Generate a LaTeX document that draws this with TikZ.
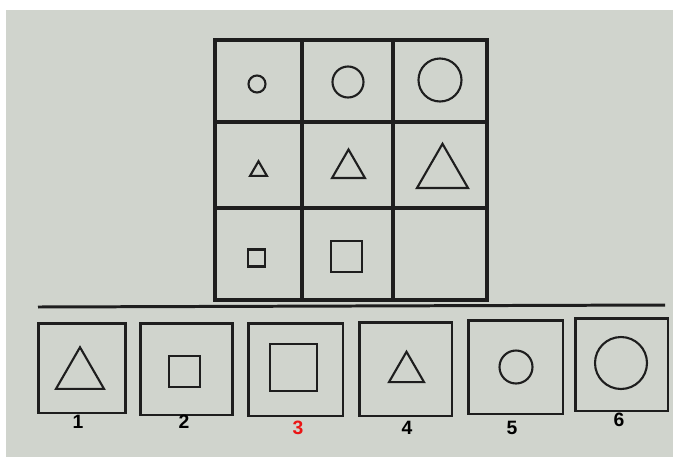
\documentclass[tikz,border=0pt]{standalone}
\usepackage{fontspec}
\setsansfont{Liberation Sans}
\usetikzlibrary{shapes.geometric}
\definecolor{Paper}{RGB}{208,212,205}
\definecolor{Ink}{RGB}{30,30,30}
\definecolor{Answer}{RGB}{235,20,20}
\tikzset{
  gridline/.style={Ink,line width=2.2pt},
  boxline/.style={Ink,line width=1.7pt},
  fig/.style={draw=Ink,line width=1.2pt,inner sep=0pt},
  fcirc/.style={fig,circle},
  ftri/.style={fig,regular polygon,regular polygon sides=3},
  fsq/.style={fig,rectangle},
  abox/.style={draw=Ink,line width=1.7pt,rectangle,inner sep=0pt},
  num/.style={font=\sffamily\bfseries\fontsize{11}{13}\selectfont,text=black},
}

\begin{document}
\begin{tikzpicture}[x=0.02cm,y=-0.02cm]
  \useasboundingbox[fill=white] (0,0) rectangle (673,457);
  \fill[Paper] (6,10) rectangle (673,457);

  % the 3x3 grid
  \draw[gridline] (215,40) rectangle (487,300);
  \draw[gridline] (302,40) -- (302,300);
  \draw[gridline] (393,40) -- (393,300);
  \draw[gridline] (215,122) -- (487,122);
  \draw[gridline] (215,208) -- (487,208);

  % row 1: circles
  \node[fcirc,minimum size=0.34cm] (c1) at (257,84) {};
  \node[fcirc,minimum size=0.62cm] (c2) at (348,82) {};
  \node[fcirc,minimum size=0.86cm] (c3) at (440,80) {};
  % row 2: triangles
  \node[ftri,minimum size=0.39cm] (t1) at (258.5,171) {};
  \node[ftri,minimum size=0.76cm] (t2) at (348.5,168.5) {};
  \node[ftri,minimum size=1.18cm] (t3) at (442.5,173.3) {};
  % row 3: squares, last cell empty
  \node[fsq,minimum size=0.34cm] (s1) at (256.5,258) {};
  \node[fsq,minimum size=0.62cm] (s2) at (346.5,256.5) {};

  \draw[boxline] (38,307) -- (665,305);

  % answer boxes
  \node[abox,minimum width=1.76cm,minimum height=1.80cm] (a1) at (82,368) {};
  \node[abox,minimum width=1.86cm,minimum height=1.84cm] (a2) at (186.5,369) {};
  \node[abox,minimum width=1.90cm,minimum height=1.86cm] (a3) at (295.5,369.5) {};
  \node[abox,minimum width=1.86cm,minimum height=1.88cm] (a4) at (405.5,369) {};
  \node[abox,minimum width=1.90cm,minimum height=1.88cm] (a5) at (515.5,367) {};
  \node[abox,minimum width=1.86cm,minimum height=1.86cm] (a6) at (621.5,364.5) {};

  \node[ftri,minimum size=1.11cm] (a1f) at (80,375) {};
  \node[fsq,minimum size=0.62cm] (a2f) at (184.5,371.5) {};
  \node[fsq,minimum size=0.94cm] (a3f) at (293.5,367.5) {};
  \node[ftri,minimum size=0.81cm] (a4f) at (406.5,372) {};
  \node[fcirc,minimum size=0.66cm] (a5f) at (516,367) {};
  \node[fcirc,minimum size=1.04cm] (a6f) at (621,363) {};

  \node[num] (n1) at (78,422) {1};
  \node[num] (n2) at (184,422) {2};
  \node[num,text=Answer] (n3) at (298,428) {3};
  \node[num] (n4) at (407,428) {4};
  \node[num] (n5) at (512,428) {5};
  \node[num] (n6) at (619,420) {6};
\end{tikzpicture}
\end{document}
